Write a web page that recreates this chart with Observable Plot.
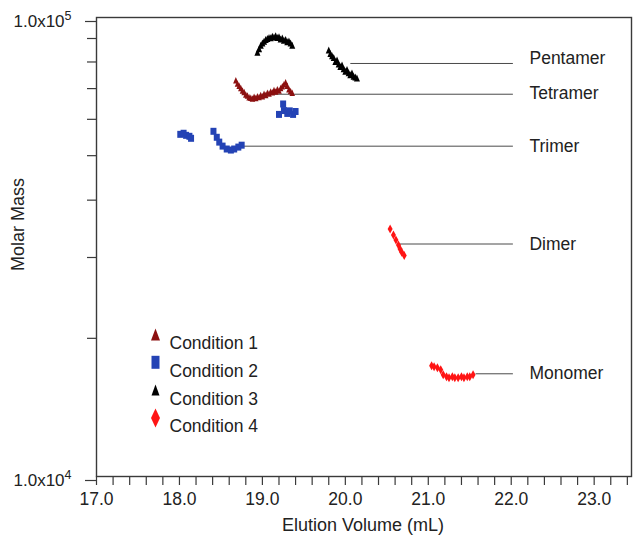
<!DOCTYPE html>
<html>
<head>
<meta charset="utf-8">
<script src="https://cdn.jsdelivr.net/npm/d3@7"></script>
<script src="https://cdn.jsdelivr.net/npm/@observablehq/plot@0.6"></script>
<style>
  html, body { margin: 0; padding: 0; background: #fff; }
  #chart { width: 633px; height: 539px; }
</style>
</head>
<body>
<div id="chart"></div>
<script>
// ---------------- data ----------------
const conditions = ["Condition 1", "Condition 2", "Condition 3", "Condition 4"];

const cond1Volume = [18.68,18.70,18.72,18.74,18.76,18.78,18.80,18.82,18.84,18.86,18.88,18.90,18.92,18.94,18.96,18.98,19.00,19.02,19.04,19.06,19.08,19.10,19.12,19.14,19.16,19.18,19.20,19.22,19.24,19.26,19.28,19.30,19.32,19.34,19.36];
const cond1Mass   = [73000,71800,71000,70200,69300,68800,68000,67600,67000,66900,66600,67200,66800,67400,67100,67800,67400,68200,67800,68600,68300,69000,68700,69500,69000,69800,69300,70200,70800,71500,72300,71000,69800,69200,68600];

const cond2Volume = [18.01,18.05,18.08,18.12,18.14, 18.41,18.45,18.48,18.52,18.57,18.62,18.66,18.71,18.75, 19.20,19.25,19.26,19.30,19.33,19.37,19.40];
const cond2Mass   = [55650,55950,55370,55100,54550, 56500,54830,53520,52460,51700,51430,51700,52200,52700, 61500,64800,62700,61800,62600,61500,62400];

const cond3Volume = [18.94,18.96,18.98,19.00,19.02,19.04,19.06,19.08,19.10,19.12,19.14,19.16,19.18,19.20,19.22,19.24,19.26,19.28,19.30,19.32,19.34,19.36,
                     19.80,19.82,19.84,19.86,19.88,19.90,19.92,19.94,19.96,19.98,20.00,20.02,20.04,20.06,20.08,20.10,20.12,20.14];
const cond3Mass   = [84000,85500,87000,88000,88800,89500,90000,90500,90300,91000,90700,91200,90500,90800,89800,90200,89200,89500,88600,88900,88000,87000,
                     85000,83500,82500,81800,80200,80800,79200,78200,78800,77300,76400,77000,75800,75000,75700,74500,74200,73800];

const cond4Volume = [20.54,20.58,20.61,20.64,20.66,20.68,20.71,
                     21.04,21.07,21.11,21.15,21.18,21.22,21.25,21.29,21.32,21.36,21.40,21.43,21.47,21.50,21.54];
const cond4Mass   = [34600,33580,32750,31950,31300,30800,30300,
                     17430,17350,17260,17090,16660,16500,16420,16500,16420,16420,16500,16420,16500,16500,16660];

const species      = ["Pentamer", "Tetramer", "Trimer", "Dimer", "Monomer"];
const speciesStart = [20.06, 19.04, 18.735, 20.66, 21.57];
const speciesEnd   = [22.02, 22.02, 22.02, 22.02, 22.02];
const speciesMass  = [79400, 68050, 52440, 32100, 16740];
const speciesLabelX    = [22.22, 22.22, 22.22, 22.22, 22.22];
const speciesLabelMass = [81400, 68400, 52440, 32100, 16740];

const xMajorTicks = [17, 18, 19, 20, 21, 22, 23];
const xTickLabels = ["17.0", "18.0", "19.0", "20.0", "21.0", "22.0", "23.0"];
const xMinorTicks = [17.2,17.4,17.6,17.8,18.2,18.4,18.6,18.8,19.2,19.4,19.6,19.8,20.2,20.4,20.6,20.8,21.2,21.4,21.6,21.8,22.2,22.4,22.6,22.8,23.2,23.4];
const yMajorTicks = [1e4, 1e5];
const yTickLabels = ["1.0x10^4", "1.0x10^5"];
const yMinorTicks = [2e4, 3e4, 4e4, 5e4, 6e4, 7e4, 8e4, 9e4];

// ---------------- styles ----------------
const colors = ["#8c1010", "#2443b5", "#000000", "#ff1414"];
function tri(w, h) { return { draw(c) { c.moveTo(0, -h / 2); c.lineTo(w / 2, h / 2); c.lineTo(-w / 2, h / 2); c.closePath(); } }; }
function rect(w, h) { return { draw(c) { c.moveTo(-w / 2, -h / 2); c.lineTo(w / 2, -h / 2); c.lineTo(w / 2, h / 2); c.lineTo(-w / 2, h / 2); c.closePath(); } }; }
function diam(w, h) { return { draw(c) { c.moveTo(0, -h / 2); c.lineTo(w / 2, 0); c.lineTo(0, h / 2); c.lineTo(-w / 2, 0); c.closePath(); } }; }
const dataSymbols = [tri(5.5, 6.5), rect(6, 7), tri(6, 7), diam(5, 9)];
const legendSymbols = [tri(9, 12), rect(8, 13), tri(8, 11), diam(9, 19)];

const series = [
  [cond1Volume, cond1Mass],
  [cond2Volume, cond2Mass],
  [cond3Volume, cond3Mass],
  [cond4Volume, cond4Mass]
].map(([xs, ys], k) => xs.map((v, i) => ({ volume: v, mass: ys[i], k })));

const speciesRows = species.map((s, i) => ({
  name: s, x1: speciesStart[i], x2: speciesEnd[i], y: speciesMass[i],
  lx: speciesLabelX[i], ly: speciesLabelMass[i]
}));

const font = "'Liberation Sans', Arial, Helvetica, sans-serif";
const axisColor = "#3a3a3a";

const legendMarks = conditions.flatMap((name, i) => [
  Plot.dot([name], { frameAnchor: "top-left", dx: 59, dy: 317 + i * 27.8, symbol: legendSymbols[i], fill: colors[i], r: 4 }),
  Plot.text([name], { frameAnchor: "top-left", dx: 73, dy: 319 + i * 27.8, text: d => d, textAnchor: "start", fontSize: 17.5, fill: "#222" })
]);

const chart = Plot.plot({
  width: 633,
  height: 539,
  marginLeft: 96,
  marginRight: 2,
  marginTop: 17,
  marginBottom: 63,
  style: { fontFamily: font, color: "#222", background: "#fff" },
  x: { domain: [17, 23.45] },
  y: { type: "log", domain: [1e4, 1e5] },
  marks: [
    Plot.axisX(xMinorTicks, { tickSize: 9, tickFormat: () => "", stroke: axisColor, strokeWidth: 1.2 }),
    Plot.axisX(xMajorTicks, { tickSize: 9, tickPadding: 7, tickFormat: d => xTickLabels[xMajorTicks.indexOf(d)], fontSize: 17.5, stroke: axisColor, strokeWidth: 1.2, fill: "#222" }),
    Plot.axisY(yMinorTicks, { tickSize: 9, tickFormat: () => "", stroke: axisColor, strokeWidth: 1.2 }),
    Plot.axisY(yMajorTicks, { tickSize: 11, tickPadding: 14, dy: 4, tickFormat: d => yTickLabels[yMajorTicks.indexOf(d)], fontSize: 17, stroke: axisColor, strokeWidth: 1.2, fill: "#222" }),
    Plot.frame({ stroke: axisColor, strokeWidth: 1.4 }),
    Plot.link(speciesRows, { x1: "x1", x2: "x2", y1: "y", y2: "y", stroke: "#4a4a4a", strokeWidth: 1 }),
    Plot.text(speciesRows, { x: "lx", y: "ly", text: "name", textAnchor: "start", fontSize: 17.5, fill: "#222" }),
    ...series.map((rows, k) => Plot.dot(rows, { x: "volume", y: "mass", symbol: dataSymbols[k], fill: colors[k], r: 3 })),
    ...legendMarks,
    Plot.text(["Elution Volume (mL)"], { frameAnchor: "bottom", dy: 54, text: d => d, fontSize: 18, fill: "#222", dx: -1 }),
    Plot.text(["Molar Mass"], { frameAnchor: "left", dx: -78, dy: 24, rotate: -90, text: d => d, fontSize: 18, fill: "#222" })
  ]
});

// superscript exponents on the log-axis labels
chart.querySelectorAll("text").forEach(t => {
  const m = /^(1\.0x10)\^(\d)$/.exec(t.textContent);
  if (m) {
    t.textContent = "";
    t.setAttribute("font-size", "17");
    t.style.fontSize = "17px";
    const ns = "http://www.w3.org/2000/svg";
    const a = document.createElementNS(ns, "tspan"); a.textContent = m[1];
    a.setAttribute("font-size", "17");
    const b = document.createElementNS(ns, "tspan"); b.textContent = m[2];
    b.setAttribute("dy", "-0.55em"); b.setAttribute("font-size", "12.5");
    t.appendChild(a); t.appendChild(b);
  }
});

document.getElementById("chart").appendChild(chart);
</script>
</body>
</html>
